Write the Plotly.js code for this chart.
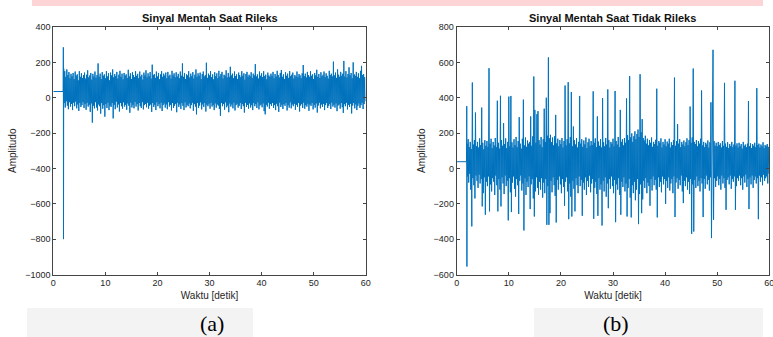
<!DOCTYPE html>
<html>
<head>
<meta charset="utf-8">
<script src="https://cdn.plot.ly/plotly-3.0.1.min.js"></script>
<style>html,body{margin:0;padding:0;background:#fff;}#chart{width:773px;height:337px;}</style>
</head>
<body>
<div id="chart"></div>
<script>
// ---- data ----
const titleA = "Sinyal Mentah Saat Rileks";
const titleB = "Sinyal Mentah Saat Tidak Rileks";
const xLabel = "Waktu [detik]";
const yLabel = "Amplitudo";
const panelLabels = ["(a)", "(b)"];

const bandStart = 2.0;   // seconds: first band sample
const bandStep = 0.2;    // seconds between successive upper readings

// (a) relaxed: leading flat part and onset spike
const startTA = [0, 1.9, 1.93, 1.96];
const startVA = [35, 35, 285, -800];
// (a) upper and lower readings of the noise band
const hiA = [
 165,150,118,160,128,145,110,135,122,140,
 105,148,125,132,98,150,118,138,112,128,
 142,108,130,155,115,126,140,102,135,120,
 148,112,128,194,118,136,105,145,124,132,
 110,150,120,138,98,142,126,160,115,134,
 122,146,108,130,152,118,136,104,140,125,
 132,112,158,120,138,106,144,128,116,150,
 124,135,110,148,120,130,102,142,126,155,
 115,138,122,145,108,187,128,134,112,148,
 120,140,104,132,150,118,136,125,142,110,
 146,122,130,108,152,126,138,115,144,120,
 135,110,148,124,194,118,140,106,132,126,
 150,114,136,122,145,108,130,160,118,138,
 124,142,105,134,148,120,128,198,112,136,
 126,150,116,132,104,144,122,138,110,152,
 120,134,146,108,130,124,155,114,140,118,
 175,126,136,110,148,122,132,106,142,128,
 116,150,124,138,102,134,146,118,130,122,
 144,112,136,126,190,120,132,108,148,124,
 138,116,150,122,130,104,142,126,118,136,
 124,146,110,134,120,152,128,114,140,157,
 118,132,106,144,124,136,112,150,122,130,
 142,108,128,120,148,116,134,126,110,138,
 185,122,136,114,146,128,118,150,124,132,
 106,140,126,158,118,134,112,144,122,130,
 148,116,138,124,108,152,128,136,120,204,
 126,142,112,160,130,118,146,124,136,208,
 120,150,114,134,172,126,140,110,200,132,
 124,146,118,138,110,152,180,128,134,116
];
const loA = [
 -30,-55,-20,-45,-65,-25,-50,-35,-70,-28,
 -48,-22,-60,-38,-75,-30,-52,-42,-25,-58,
 -35,-68,-28,-50,-40,-80,-32,-141,-45,-60,
 -25,-55,-72,-38,-48,-90,-30,-62,-42,-107,
 -35,-58,-28,-70,-45,-52,-30,-117,-40,-65,
 -22,-55,-38,-78,-30,-48,-62,-26,-50,-40,
 -68,-32,-45,-85,-28,-55,-40,-60,-24,-50,
 -36,-72,-30,-48,-58,-25,-66,-42,-35,-54,
 -28,-62,-45,-38,-80,-30,-52,-40,-70,-26,
 -48,-35,-60,-28,-75,-42,-32,-56,-38,-65,
 -25,-50,-40,-72,-30,-58,-45,-35,-82,-28,
 -52,-38,-64,-30,-46,-70,-26,-55,-40,-48,
 -32,-60,-42,-28,-74,-36,-50,-94,-30,-58,
 -44,-26,-66,-38,-52,-30,-78,-40,-48,-34,
 -62,-28,-50,-42,-70,-32,-56,-38,-45,-64,
 -102,-30,-48,-36,-68,-26,-54,-44,-82,-32,
 -50,-38,-60,-28,-72,-42,-34,-56,-46,-30,
 -64,-36,-48,-84,-28,-52,-40,-62,-32,-55,
 -42,-70,-30,-48,-36,-58,-26,-66,-44,-38,
 -54,-32,-76,-94,-40,-50,-28,-62,-36,-46,
 -30,-58,-42,-70,-34,-48,-80,-28,-52,-40,
 -64,-36,-46,-30,-72,-42,-56,-26,-60,-38,
 -48,-34,-68,-40,-52,-30,-78,-44,-36,-58,
 -28,-62,-42,-50,-34,-74,-38,-46,-30,-66,
 -40,-56,-32,-84,-44,-28,-60,-38,-52,-34,
 -70,-42,-30,-58,-46,-36,-64,-28,-50,-40,
 -56,-32,-76,-44,-38,-62,-30,-54,-86,-36,
 -48,-28,-66,-40,-52,-34,-89,-44,-30,-60,
 -38,-70,-46,-32,-58,-42,-28,-64,-36,-20
];

// (b) not relaxed
const startTB = [0, 1.9, 1.93, 1.96];
const startVB = [38, 38, 352, -555];
const hiB = [
 140,165,120,150,110,486,135,160,316,125,
 150,118,170,132,344,145,108,160,128,155,
 122,567,140,168,115,150,130,172,120,383,
 145,112,411,160,128,256,138,170,115,150,
 406,125,410,148,118,165,132,178,120,155,
 290,140,112,168,389,130,175,122,158,140,
 150,294,128,182,520,331,145,307,324,160,
 135,178,120,165,338,150,400,185,628,170,
 190,148,175,130,182,303,142,168,125,160,
 138,172,118,155,469,130,165,488,142,178,
 432,125,237,160,135,172,118,150,410,140,
 165,122,158,136,175,115,148,168,128,155,
 132,436,145,170,120,294,152,128,166,118,
 398,148,125,172,135,447,160,118,150,140,
 168,125,438,155,135,178,120,331,150,165,
 130,172,145,396,188,160,522,175,198,150,
 182,210,165,195,220,178,533,205,279,172,
 158,185,140,168,130,160,145,175,122,150,
 138,162,451,128,155,145,170,118,150,135,
 165,125,152,140,168,118,148,132,160,514,
 128,155,250,140,165,120,150,135,158,125,
 148,170,132,160,350,145,175,565,150,138,
 160,125,155,140,168,441,130,150,120,145,
 135,158,118,148,374,140,671,155,128,145,
 125,150,132,142,118,155,128,484,140,122,
 148,115,138,126,150,120,135,496,128,142,
 118,145,125,138,112,150,128,135,120,140,
 381,125,142,115,138,128,145,120,454,132,
 140,118,135,125,148,115,132,128,138,122
];
const loB = [
 -45,-80,-30,-120,-328,-55,-95,-170,-40,-70,
 -110,-35,-85,-60,-215,-140,-50,-262,-75,-100,
 -45,-243,-90,-130,-55,-75,-150,-40,-95,-243,
 -60,-120,-215,-50,-85,-145,-40,-100,-70,-294,
 -55,-135,-247,-80,-45,-115,-160,-60,-95,-258,
 -70,-40,-125,-85,-351,-55,-150,-75,-105,-45,
 -230,-90,-60,-170,-272,-130,-50,-110,-149,-75,
 -120,-55,-165,-80,-140,-60,-319,-100,-319,-253,
 -70,-135,-50,-95,-155,-306,-65,-120,-45,-90,
 -140,-60,-105,-211,-75,-50,-130,-287,-85,-160,
 -272,-70,-115,-243,-55,-95,-140,-45,-100,-65,
 -268,-80,-120,-50,-150,-70,-105,-40,-135,-85,
 -60,-285,-110,-75,-145,-268,-55,-120,-90,-323,
 -70,-130,-50,-160,-85,-225,-60,-115,-45,-100,
 -140,-65,-304,-90,-120,-55,-150,-262,-75,-105,
 -50,-130,-85,-272,-110,-60,-165,-277,-95,-140,
 -75,-180,-120,-60,-315,-145,-90,-253,-175,-70,
 -110,-55,-140,-80,-100,-211,-60,-125,-45,-95,
 -65,-120,-277,-50,-105,-75,-135,-45,-90,-60,
 -200,-70,-110,-50,-125,-85,-60,-140,-45,-275,
 -80,-55,-115,-65,-95,-40,-130,-196,-70,-100,
 -50,-120,-75,-145,-60,-370,-90,-357,-65,-110,
 -45,-100,-70,-130,-55,-85,-275,-60,-115,-40,
 -90,-65,-125,-50,-394,-80,-290,-55,-105,-70,
 -45,-95,-60,-120,-40,-85,-55,-110,-234,-65,
 -50,-90,-40,-115,-60,-75,-45,-234,-100,-55,
 -70,-40,-95,-55,-120,-45,-80,-35,-105,-60,
 -230,-50,-90,-40,-110,-65,-45,-85,-55,-287,
 -40,-75,-50,-95,-35,-70,-55,-45,-85,-30
];

const xTicks = [0, 10, 20, 30, 40, 50, 60];
const yTicksA = [-1000, -800, -600, -400, -200, 0, 200, 400];
const yTicksB = [-600, -400, -200, 0, 200, 400, 600, 800];

// ---- assemble series ----
function buildSeries(startT, startV, hi, lo) {
  const x = startT.slice(), y = startV.slice();
  for (let i = 0; i < hi.length; i++) {
    x.push(bandStart + bandStep * i);        y.push(hi[i]);
    x.push(bandStart + bandStep * i + bandStep / 2); y.push(lo[i]);
  }
  return {x, y};
}
const sA = buildSeries(startTA, startVA, hiA, loA);
const sB = buildSeries(startTB, startVB, hiB, loB);

const lineStyle = {color: '#0072BD', width: 1};
const traces = [
  {x: sA.x, y: sA.y, type: 'scatter', mode: 'lines', line: lineStyle, xaxis: 'x', yaxis: 'y', hoverinfo: 'skip'},
  {x: sB.x, y: sB.y, type: 'scatter', mode: 'lines', line: lineStyle, xaxis: 'x2', yaxis: 'y2', hoverinfo: 'skip'}
];

const tickFont = {family: 'Liberation Sans, Arial, sans-serif', size: 9, color: '#262626'};
const titleFont = {family: 'Liberation Sans, Arial, sans-serif', size: 10, color: '#262626'};
function xAx(domain, anchor) {
  return {domain, anchor, range: [0, 60], tickvals: xTicks, ticks: 'inside', ticklen: 3,
    tickcolor: '#444', linecolor: '#444', linewidth: 1, mirror: 'ticks', showgrid: false,
    zeroline: false, tickfont: tickFont, fixedrange: true, ticklabeloverflow: 'allow',
    title: {text: xLabel, font: titleFont, standoff: 4}};
}
function yAx(domain, anchor, range, vals) {
  return {domain, anchor, range, tickvals: vals, ticks: 'inside', ticklen: 3,
    tickcolor: '#444', linecolor: '#444', linewidth: 1, mirror: 'ticks', showgrid: false,
    zeroline: false, tickfont: tickFont, fixedrange: true,
    title: {text: yLabel, font: titleFont, standoff: 6}};
}
const W = 773, H = 337;
const yDom = [1 - 274.5 / H, 1 - 27 / H];
const dA = [53.3 / W, 365.7 / W];
const dB = [456.7 / W, 769.3 / W];

const layout = {
  width: W, height: H,
  margin: {l: 0, r: 0, t: 0, b: 0},
  paper_bgcolor: '#fff', plot_bgcolor: '#fff',
  showlegend: false,
  xaxis: xAx(dA, 'y'),
  yaxis: yAx(yDom, 'x', [-1000, 400], yTicksA),
  xaxis2: xAx(dB, 'y2'),
  yaxis2: yAx(yDom, 'x2', [-600, 800], yTicksB),
  shapes: [
    {type: 'rect', xref: 'paper', yref: 'paper', x0: 32 / W, x1: 763 / W, y0: 1 - 6 / H, y1: 1,
     line: {width: 0}, fillcolor: '#fdd5d7', layer: 'below'},
    {type: 'rect', xref: 'paper', yref: 'paper', x0: 27 / W, x1: 253 / W, y0: 0, y1: 1 - 308 / H,
     line: {width: 0}, fillcolor: '#f3f3f3', layer: 'below'},
    {type: 'rect', xref: 'paper', yref: 'paper', x0: 534 / W, x1: 763 / W, y0: 0, y1: 1 - 308 / H,
     line: {width: 0}, fillcolor: '#f3f3f3', layer: 'below'}
  ],
  annotations: [
    {text: '<b>' + titleA + '</b>', xref: 'paper', yref: 'paper', x: (dA[0] + dA[1]) / 2, y: 1 - 18 / H,
     showarrow: false, xanchor: 'center', yanchor: 'middle',
     font: {family: 'Liberation Sans, Arial, sans-serif', size: 11, color: '#111'}},
    {text: '<b>' + titleB + '</b>', xref: 'paper', yref: 'paper', x: (dB[0] + dB[1]) / 2, y: 1 - 18 / H,
     showarrow: false, xanchor: 'center', yanchor: 'middle',
     font: {family: 'Liberation Sans, Arial, sans-serif', size: 11, color: '#111'}},
    {text: panelLabels[0], xref: 'paper', yref: 'paper', x: 212 / W, y: 1 - 323 / H,
     showarrow: false, xanchor: 'center', yanchor: 'middle',
     font: {family: 'Liberation Serif, Times New Roman, serif', size: 22, color: '#000'}},
    {text: panelLabels[1], xref: 'paper', yref: 'paper', x: 616 / W, y: 1 - 323 / H,
     showarrow: false, xanchor: 'center', yanchor: 'middle',
     font: {family: 'Liberation Serif, Times New Roman, serif', size: 22, color: '#000'}}
  ]
};

Plotly.newPlot('chart', traces, layout, {staticPlot: true, displayModeBar: false});
</script>
</body>
</html>
